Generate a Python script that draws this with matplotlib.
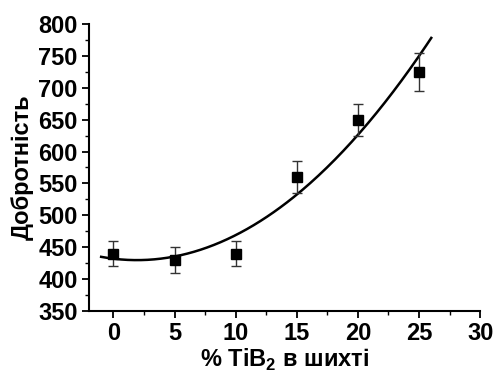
import numpy as np
import matplotlib
matplotlib.use("Agg")
import matplotlib.pyplot as plt
from matplotlib.ticker import MultipleLocator

plt.rcParams['font.family'] = ['Liberation Sans', 'DejaVu Sans']
plt.rcParams['font.weight'] = 'bold'
plt.rcParams['mathtext.fontset'] = 'custom'
plt.rcParams['mathtext.rm'] = 'Liberation Sans:bold'
plt.rcParams['mathtext.bf'] = 'Liberation Sans:bold'

x = [0, 5, 10, 15, 20, 25]
y = [440, 430, 440, 560, 650, 725]
yerr = [20, 20, 20, 25, 25, 30]
# quadratic fit curve (c2, c1, c0), drawn over x = -1..26
fit_coef = [0.6008, -2.316, 432.08]
fit_range = [-1, 26]

fig = plt.figure(figsize=(4.94, 3.73), dpi=100)
ax = fig.add_axes([0.180, 0.166, 0.792, 0.770])

xf = np.linspace(fit_range[0], fit_range[1], 200)
ax.plot(xf, np.polyval(fit_coef, xf), color='black', lw=1.8)

ax.errorbar(x, y, yerr=yerr, fmt='s', color='black', ms=7, ecolor='#333333',
            elinewidth=1.0, capsize=3.5, capthick=1.0)

ax.set_xlim(-2, 30)
ax.set_ylim(350, 800)
ax.xaxis.set_major_locator(MultipleLocator(5))
ax.xaxis.set_minor_locator(MultipleLocator(2.5))
ax.yaxis.set_major_locator(MultipleLocator(50))
ax.yaxis.set_minor_locator(MultipleLocator(25))
for s in ['top', 'right']:
    ax.spines[s].set_visible(False)
for s in ['left', 'bottom']:
    ax.spines[s].set_linewidth(1.5)
ax.tick_params(which='major', length=5, width=1.3, labelsize=17, pad=3)
ax.tick_params(which='minor', length=3, width=1.0)
for lab in ax.get_xticklabels() + ax.get_yticklabels():
    lab.set_fontweight('bold')

ax.set_xlabel('% TiB$_{2}$ в шихті', fontsize=17, fontweight='bold', labelpad=1)
ax.set_ylabel('Добротність', fontsize=17, fontweight='bold', labelpad=3)

fig.savefig('out.png', dpi=100)
